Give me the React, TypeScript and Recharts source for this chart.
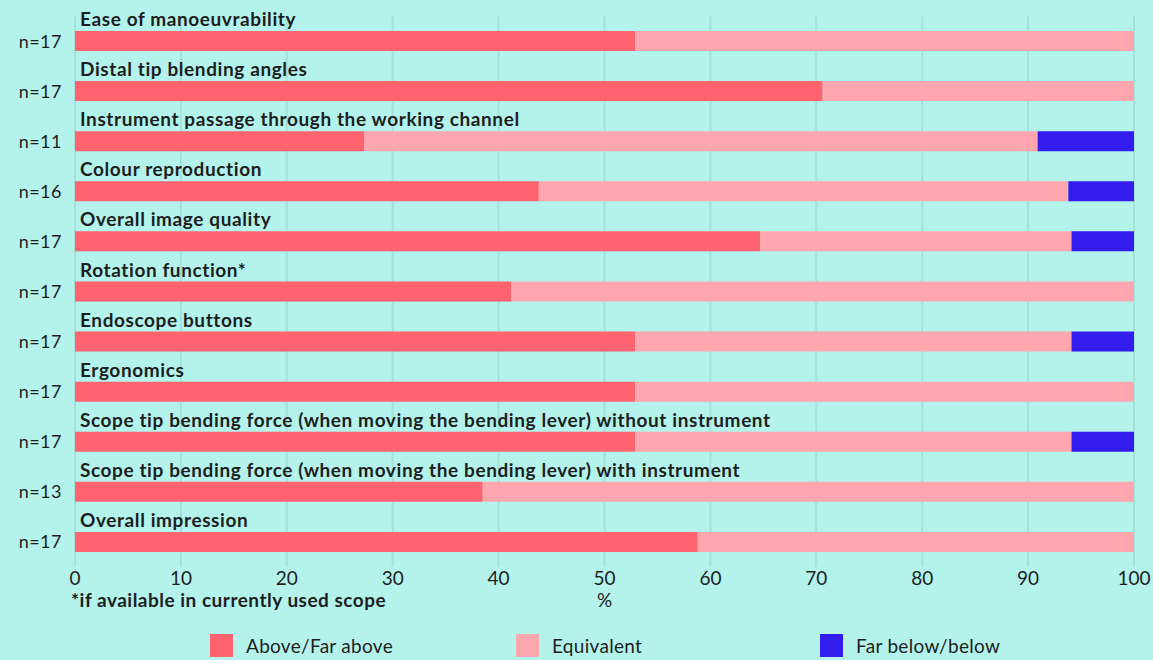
import React from "react";
import { BarChart, Bar, XAxis, YAxis, CartesianGrid, Legend, Label } from "recharts";

const categories = [
  "Ease of manoeuvrability",
  "Distal tip blending angles",
  "Instrument passage through the working channel",
  "Colour reproduction",
  "Overall image quality",
  "Rotation function*",
  "Endoscope buttons",
  "Ergonomics",
  "Scope tip bending force (when moving the bending lever) without instrument",
  "Scope tip bending force (when moving the bending lever) with instrument",
  "Overall impression",
];
const nValues = [17, 17, 11, 16, 17, 17, 17, 17, 17, 13, 17];
const above = [52.9, 70.6, 27.3, 43.8, 64.7, 41.2, 52.9, 52.9, 52.9, 38.5, 58.8];
const equivalent = [47.1, 29.4, 63.6, 50.0, 29.4, 58.8, 41.2, 47.1, 41.2, 61.5, 41.2];
const farBelow = [0, 0, 9.1, 6.2, 5.9, 0, 5.9, 0, 5.9, 0, 0];
const xTicks = [0, 10, 20, 30, 40, 50, 60, 70, 80, 90, 100];

const seriesNames = ["Above/Far above", "Equivalent", "Far below/below"];
const colors = ["#ff6370", "#ffa6ae", "#331cee"];

const data = categories.map((name, i) => ({
  name,
  n: nValues[i],
  above: above[i],
  equivalent: equivalent[i],
  farBelow: farBelow[i],
}));

const FONT = "Lato, 'Open Sans', sans-serif";
const TEXT = "#1e1e1e";

const YTick = (props: any) => {
  const { y, payload, index } = props;
  const d = data[index] || data.find((r) => r.name === payload.value);
  return (
    <g>
      <text x={62} y={y} dy="0.36em" textAnchor="end" fontSize={18} letterSpacing={0.5} fill={TEXT} fontFamily={FONT}>
        {`n=${d ? d.n : ""}`}
      </text>
      <text x={80} y={y - 15} textAnchor="start" fontSize={19} letterSpacing={0.6} fontWeight={700} fill={TEXT} fontFamily={FONT}>
        {payload.value}
      </text>
    </g>
  );
};

const legendX = [210, 516, 820];

const LegendContent = () => (
  <div style={{ position: "relative", width: 1153, height: 30, fontFamily: FONT }}>
    {seriesNames.map((s, i) => (
      <div key={s} style={{ position: "absolute", left: legendX[i], top: 0, display: "flex", alignItems: "center" }}>
        <div style={{ width: 23, height: 23, background: colors[i] }} />
        <span style={{ marginLeft: 13, fontSize: 19, letterSpacing: 0.3, color: TEXT, lineHeight: "23px" }}>{s}</span>
      </div>
    ))}
  </div>
);

const Footnote = (props: any) => {
  const vb = props.viewBox || {};
  return (
    <text x={vb.x - 4} y={vb.y + vb.height - 5} textAnchor="start" fontSize={19} letterSpacing={0.5} fontWeight={700} fill={TEXT} fontFamily={FONT}>
      *if available in currently used scope
    </text>
  );
};

export default function App() {
  return (
    <div style={{ position: "absolute", left: 0, top: 0, width: 1153, height: 660, background: "#b3f3eb" }}>
      <BarChart
        width={1153}
        height={660}
        data={data}
        layout="vertical"
        margin={{ top: 16, right: 19, left: 0, bottom: 18 }}
        barSize={20}
      >
        <CartesianGrid horizontal={false} vertical={true} stroke="#a2e2d9" strokeWidth={2} />
        <XAxis
          type="number"
          domain={[0, 100]}
          ticks={xTicks}
          interval={0}
          axisLine={false}
          tickLine={false}
          tickSize={0}
          tickMargin={5}
          height={45}
          tick={{ fontSize: 19, fill: TEXT, fontFamily: FONT }}
        >
          <Label value="%" position="insideBottom" offset={5} fontSize={19} fill={TEXT} fontFamily={FONT} />
          <Label content={<Footnote />} position="insideBottomLeft" />
        </XAxis>
        <YAxis
          type="category"
          dataKey="name"
          width={75}
          axisLine={false}
          tickLine={false}
          interval={0}
          tick={<YTick />}
        />
        <Legend
          layout="vertical"
          align="center"
          verticalAlign="bottom"
          content={<LegendContent />}
          wrapperStyle={{ position: "absolute", top: 634, left: 0, width: 1153, height: 30, bottom: "auto" }}
        />
        <Bar dataKey="above" name={seriesNames[0]} stackId="a" fill={colors[0]} isAnimationActive={false} />
        <Bar dataKey="equivalent" name={seriesNames[1]} stackId="a" fill={colors[1]} isAnimationActive={false} />
        <Bar dataKey="farBelow" name={seriesNames[2]} stackId="a" fill={colors[2]} isAnimationActive={false} />
      </BarChart>
    </div>
  );
}
